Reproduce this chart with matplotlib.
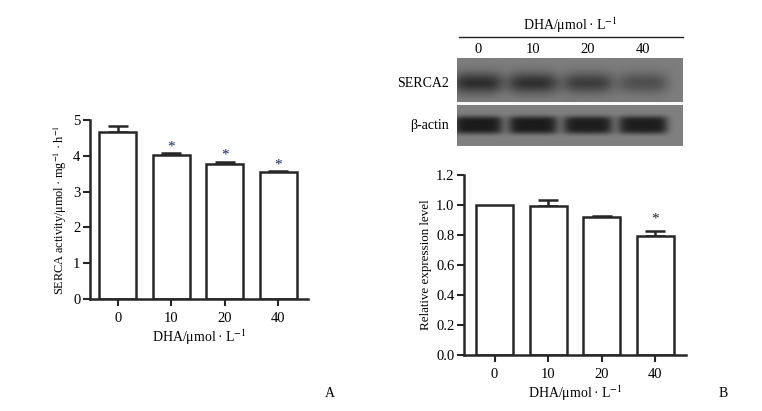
import numpy as np
import matplotlib
matplotlib.use("Agg")
import matplotlib.pyplot as plt
from matplotlib.lines import Line2D

plt.rcParams['font.family'] = ['Liberation Serif', 'DejaVu Serif']
plt.rcParams['mathtext.fontset'] = 'stix'

# Panel A: SERCA activity
doses = ['0', '10', '20', '40']
activity = [4.67, 4.02, 3.77, 3.55]
activity_err = [0.16, 0.05, 0.07, 0.03]
activity_sig = [False, True, True, True]

# Panel B: relative expression
expression = [1.00, 0.99, 0.92, 0.79]
expression_err = [0.0, 0.04, 0.006, 0.035]
expression_sig = [False, False, False, True]

# western blot band darkness (0..1)
serca_band = [0.62, 0.60, 0.50, 0.36]
actin_band = [0.88, 0.88, 0.86, 0.86]

dot = '\u2009·\u2009'
dha_label = 'DHA/μmol' + dot + 'L$^{-1}$'
edge = '#262626'

W, H = 762, 411
fig = plt.figure(figsize=(W / 100, H / 100), dpi=100)


def bar_panel(ax, vals, errs, sig, ylim, yticks, ylabel, ylabel_size, star_color, star_pad):
    x = np.arange(len(vals))
    ax.bar(x, vals, width=0.69, color='white', edgecolor=edge, linewidth=1.8, zorder=2)
    for xi, v, e in zip(x, vals, errs):
        if e > 0:
            ax.errorbar(xi, v, yerr=[[0], [e]], color=edge, capsize=7,
                        capthick=1.8, elinewidth=1.8, zorder=1)
    for xi, v, e, s in zip(x, vals, errs, sig):
        if s:
            ax.text(xi, v + e + star_pad, '*', ha='center', va='center',
                    fontsize=11, color=star_color)
    ax.set_ylim(*ylim)
    ax.set_yticks(yticks)
    ax.set_xticks(x)
    ax.set_xticklabels(doses, fontsize=10.5)
    ax.tick_params(axis='y', labelsize=10.5, width=1.5, length=5, color=edge, pad=2)
    ax.tick_params(axis='x', width=1.5, length=5, color=edge, pad=4)
    for side in ['top', 'right']:
        ax.spines[side].set_visible(False)
    for side in ['left', 'bottom']:
        ax.spines[side].set_linewidth(1.8)
        ax.spines[side].set_color(edge)
    ax.set_xlabel(dha_label, fontsize=10, labelpad=2)
    ax.set_ylabel(ylabel, fontsize=ylabel_size, labelpad=3)


axA = fig.add_axes([90 / W, (H - 299) / H, 218 / W, 179 / H])
bar_panel(axA, activity, activity_err, activity_sig, (0, 5), [0, 1, 2, 3, 4, 5],
          'SERCA activity/μmol' + dot + 'mg$^{-1}$' + dot + 'h$^{-1}$', 8.8,
          '#1c2660', 0.17)
axA.set_xlim(-0.52, 3.56)

axB = fig.add_axes([464 / W, (H - 355) / H, 222 / W, 180 / H])
bar_panel(axB, expression, expression_err, expression_sig, (0, 1.2),
          [0, 0.2, 0.4, 0.6, 0.8, 1.0, 1.2], 'Relative expression level', 9.4,
          '#222222', 0.08)
axB.set_xlim(-0.57, 3.57)
axB.set_yticklabels(['0.0', '0.2', '0.4', '0.6', '0.8', '1.0', '1.2'])

# Western blot image
axW = fig.add_axes([457 / W, (H - 146) / H, 226 / W, 88 / H])
bw, bh = 226, 88
yy, xx = np.mgrid[0:bh, 0:bw] + 0.5
img = np.full((bh, bw), 0.50)
img[:44] = 0.49
img[44:47] = 0.97
lane_x = [21 + 55 * i for i in range(4)]
for cx, d in zip(lane_x, serca_band):
    r = ((xx - cx) / 27) ** 4 + ((yy - 25) / 12) ** 2
    img[:44] -= (d * 0.5 * np.exp(-r * 1.3))[:44]
for cx, d in zip(lane_x, actin_band):
    r = ((xx - cx) / 25) ** 6 + ((yy - 67) / 9) ** 4
    img[47:] -= (d * 0.45 * np.exp(-r))[47:]
axW.imshow(img, cmap='gray', vmin=0, vmax=1, extent=(0, bw, bh, 0), aspect='auto',
           interpolation='bilinear')
axW.set_xlim(0, bw)
axW.set_ylim(bh, 0)
axW.axis('off')

axW.text(bw / 2, -33, dha_label, ha='center', va='center', fontsize=10, clip_on=False)
axW.add_line(Line2D([2, 226], [-21, -21], color='#222222', linewidth=1.0, clip_on=False))
for cx, lab in zip(lane_x, doses):
    axW.text(cx, -9, lab, ha='center', va='center', fontsize=10.5, clip_on=False)
axW.text(-8, 25, 'SERCA2', ha='right', va='center', fontsize=10, clip_on=False)
axW.text(-8, 68, 'β-actin', ha='right', va='center', fontsize=10, clip_on=False)

fig.text(330 / W, 1 - 393 / H, 'A', ha='center', va='center', fontsize=10)
fig.text(723 / W, 1 - 393 / H, 'B', ha='center', va='center', fontsize=10)

fig.savefig('out.png', dpi=100, facecolor='white')
